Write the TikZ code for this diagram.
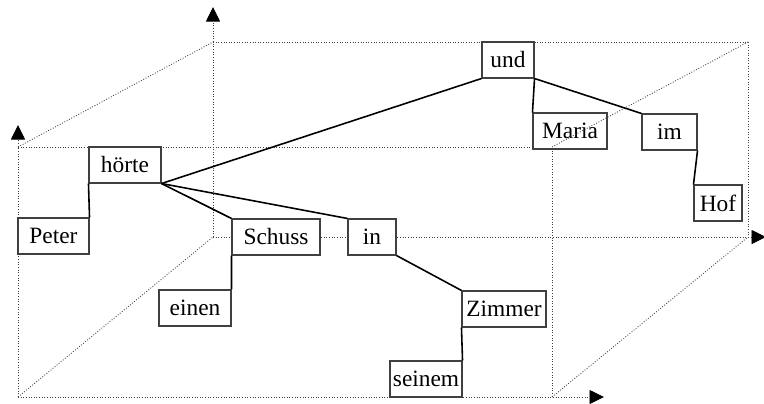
\documentclass[tikz,border=0pt]{standalone}
\usepackage{fontspec}
\setmainfont{Liberation Serif}
\usetikzlibrary{arrows.meta,positioning}
\tikzset{%
wordnode/.style={rectangle, draw=black!75, line width=0.6pt, fill=white, minimum height=0.72cm, inner sep=1pt, font=\fontsize{13.3}{16}\selectfont},
dep/.style={draw=black, line width=0.9pt},
frame/.style={draw=black!75, densely dotted, line width=0.5pt},
axis/.style={frame, -{Triangle[length=0.29cm, width=0.28cm, black]}}
}

\begin{document}
\begin{tikzpicture}[x=0.02cm, y=-0.02cm]
	\useasboundingbox (0,0) rectangle (764,403);
	% corners of the box, front and back
	\coordinate (ftl) at (18,147);
	\coordinate (ftr) at (552,147);
	\coordinate (fbl) at (18,397);
	\coordinate (fbr) at (552,397);
	\coordinate (btl) at (213,42);
	\coordinate (btr) at (748,42);
	\coordinate (bbl) at (213,237);
	\coordinate (bbr) at (748,237);
	\coordinate (fup) at (18,125);
	\coordinate (bup) at (213,7);
	\coordinate (fright) at (604,397);
	\coordinate (bright) at (766,237);

	\draw[frame] (ftl) -- (ftr) -- (fbr);
	\draw[frame] (btl) -- (btr) -- (bbr);
	\draw[frame] (ftl) -- (btl);
	\draw[frame] (fbl) -- (bbl);
	\draw[frame] (fbr) -- (bbr);
	\draw[axis] (fbl) -- (fup);
	\draw[axis] (bbl) -- (bup);
	\draw[axis] (fbl) -- (fright);
	\draw[axis] (bbl) -- (bright);

	\node[wordnode, minimum width=1.42cm] (peter) at (53.5,236) {Peter};
	\node[wordnode, minimum width=1.44cm] (hoerte) at (125,165) {hörte};
	\node[wordnode, minimum width=1.76cm] (schuss) at (276,237) {Schuss};
	\node[wordnode, minimum width=0.96cm] (in) at (372,237) {in};
	\node[wordnode, minimum width=1.44cm] (einen) at (195,308) {einen};
	\node[wordnode, minimum width=1.68cm] (zimmer) at (504,309) {Zimmer};
	\node[wordnode, minimum width=1.44cm] (seinem) at (426,379) {seinem};
	\node[wordnode, minimum width=1.04cm] (und) at (508,60) {und};
	\node[wordnode, minimum width=1.48cm] (maria) at (570,131) {Maria};
	\node[wordnode, minimum width=1.10cm] (im) at (669.5,132) {im};
	\node[wordnode, minimum width=0.96cm] (hof) at (718,203) {Hof};

	\draw[frame] (ftr) -- (btr);

	\draw[dep] (hoerte.south east) -- (und.south west);
	\draw[dep] (hoerte.south east) -- (schuss.north west);
	\draw[dep] (hoerte.south east) -- (in.north west);
	\draw[dep] (peter.north east) -- (hoerte.south west);
	\draw[dep] (schuss.south west) -- (einen.north east);
	\draw[dep] (in.south east) -- (zimmer.north west);
	\draw[dep] (zimmer.south west) -- (seinem.north east);
	\draw[dep] (und.south east) -- (maria.north west);
	\draw[dep] (und.south east) -- (im.north west);
	\draw[dep] (im.south east) -- (hof.north west);
\end{tikzpicture}
\end{document}
